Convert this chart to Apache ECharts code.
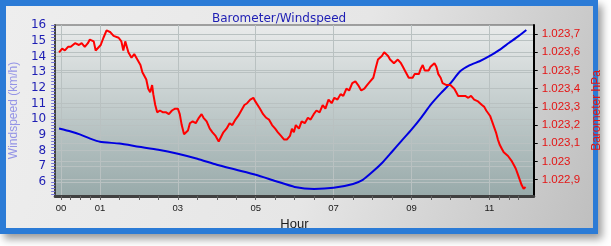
<!DOCTYPE html>
<html><head><meta charset="utf-8">
<script src="https://cdn.jsdelivr.net/npm/echarts@6/dist/echarts.min.js"></script>
<style>html,body{margin:0;padding:0;background:#fff}#c{width:611px;height:246px}</style>
</head><body><div id="c"></div>
<script>
// Barometer (hPa) readings: hour, value
const baroHours = [-0.05,0.03,0.10,0.18,0.25,0.36,0.46,0.53,0.61,0.69,0.74,0.79,0.84,0.89,0.94,1.02,1.09,1.17,1.22,1.27,1.35,1.40,1.48,1.55,1.60,1.65,1.73,1.81,1.88,1.96,2.04,2.09,2.14,2.19,2.24,2.29,2.34,2.37,2.42,2.47,2.54,2.62,2.70,2.77,2.85,2.93,3.00,3.05,3.10,3.16,3.21,3.26,3.31,3.38,3.46,3.54,3.61,3.66,3.74,3.82,3.89,3.97,4.05,4.10,4.17,4.25,4.33,4.40,4.48,4.55,4.63,4.71,4.78,4.86,4.94,4.99,5.04,5.11,5.19,5.27,5.34,5.42,5.50,5.57,5.65,5.73,5.80,5.88,5.93,5.98,6.03,6.11,6.18,6.26,6.34,6.41,6.49,6.56,6.64,6.72,6.79,6.87,6.95,7.02,7.10,7.18,7.25,7.33,7.40,7.48,7.56,7.63,7.71,7.79,7.86,7.94,8.02,8.09,8.14,8.19,8.24,8.30,8.35,8.40,8.45,8.50,8.55,8.60,8.65,8.73,8.78,8.83,8.88,8.93,8.98,9.03,9.08,9.13,9.19,9.24,9.29,9.34,9.39,9.44,9.49,9.54,9.59,9.64,9.69,9.75,9.80,9.85,9.90,9.95,10.00,10.05,10.10,10.15,10.20,10.25,10.31,10.38,10.46,10.53,10.61,10.66,10.71,10.76,10.81,10.87,10.92,10.97,11.02,11.07,11.12,11.17,11.22,11.27,11.32,11.37,11.42,11.48,11.53,11.58,11.63,11.68,11.73,11.78,11.83,11.88,11.93];
const baroValues = [1023.60,1023.62,1023.61,1023.63,1023.63,1023.65,1023.64,1023.65,1023.63,1023.65,1023.67,1023.68,1023.66,1023.61,1023.60,1023.64,1023.68,1023.72,1023.73,1023.71,1023.69,1023.70,1023.68,1023.66,1023.61,1023.66,1023.60,1023.57,1023.59,1023.56,1023.53,1023.49,1023.48,1023.45,1023.40,1023.38,1023.42,1023.37,1023.31,1023.27,1023.28,1023.27,1023.27,1023.26,1023.28,1023.29,1023.29,1023.26,1023.20,1023.15,1023.14,1023.17,1023.21,1023.22,1023.21,1023.24,1023.26,1023.24,1023.22,1023.18,1023.16,1023.14,1023.11,1023.12,1023.16,1023.18,1023.21,1023.20,1023.23,1023.25,1023.28,1023.31,1023.32,1023.34,1023.35,1023.33,1023.34,1023.29,1023.26,1023.24,1023.23,1023.20,1023.18,1023.16,1023.14,1023.12,1023.12,1023.14,1023.18,1023.16,1023.20,1023.18,1023.22,1023.21,1023.24,1023.23,1023.26,1023.28,1023.27,1023.31,1023.29,1023.34,1023.32,1023.35,1023.34,1023.37,1023.36,1023.40,1023.39,1023.43,1023.44,1023.42,1023.39,1023.40,1023.42,1023.44,1023.46,1023.52,1023.56,1023.57,1023.58,1023.60,1023.61,1023.58,1023.56,1023.57,1023.54,1023.55,1023.56,1023.54,1023.52,1023.50,1023.49,1023.46,1023.45,1023.46,1023.48,1023.49,1023.48,1023.51,1023.53,1023.50,1023.49,1023.50,1023.52,1023.53,1023.54,1023.52,1023.48,1023.46,1023.43,1023.42,1023.42,1023.41,1023.42,1023.41,1023.40,1023.38,1023.36,1023.37,1023.36,1023.36,1023.35,1023.36,1023.34,1023.35,1023.33,1023.34,1023.31,1023.30,1023.28,1023.27,1023.25,1023.22,1023.19,1023.16,1023.12,1023.09,1023.07,1023.05,1023.04,1023.03,1023.02,1023.00,1022.98,1022.96,1022.93,1022.90,1022.87,1022.85,1022.86];
// Windspeed (km/h): hour, value
const windHours = [-0.05,0.25,0.5,0.75,1.0,1.5,2.0,2.5,3.0,3.5,4.0,4.5,5.0,5.5,6.0,6.5,7.0,7.5,7.75,8.0,8.25,8.5,8.75,9.0,9.25,9.5,9.75,10.0,10.25,10.5,10.75,11.0,11.25,11.5,11.75,11.95];
const windValues = [9.40,9.21,9.01,8.76,8.56,8.44,8.24,8.05,7.79,7.47,7.09,6.77,6.45,6.06,5.68,5.55,5.62,5.87,6.13,6.64,7.22,7.92,8.63,9.33,10.10,10.94,11.64,12.28,13.05,13.44,13.69,14.01,14.40,14.85,15.29,15.68];
// Tick labels
const hourLabels = [0,1,3,5,7,9,11];
const hourTicks = [0,0.25,0.5,0.75,1,1.5,2,2.5,3,3.5,4,4.5,5,5.5,6,6.5,7,7.5,8,8.5,9,9.5,10,10.5,11,11.25,11.5,11.75];
const windLabels = [6,7,8,9,10,11,12,13,14,15,16];
const baroLabels = [1022.9,1023.0,1023.1,1023.2,1023.3,1023.4,1023.5,1023.6,1023.7];

const windTicks = [];
for (let i = 26; i <= 80; i++) windTicks.push(+(i * 0.2).toFixed(1));

function fmtBaro(v) {
  const s = (Math.round(v * 10) / 10).toFixed(1);
  let [ip, dp] = s.split('.');
  ip = ip.replace(/\B(?=(\d{3})+(?!\d))/g, '.');
  return dp === '0' ? ip : ip + ',' + dp;
}
const gridLine = {show: true, lineStyle: {color: '#b9c1c1', width: 1, type: 'solid'}};
const hidden = {axisLine: {show: false, onZero: false}, axisLabel: {show: false}};

const chart = echarts.init(document.getElementById('c'), null, {renderer: 'canvas'});
chart.setOption({
  animation: false,
  graphic: [
    {type: 'rect', z: -20, shape: {x: 0, y: 0, width: 598, height: 234},
      style: {fill: '#2b7bd6', shadowBlur: 8, shadowColor: 'rgba(0,0,0,0.4)', shadowOffsetX: 4, shadowOffsetY: 5}},
    {type: 'rect', z: -19, shape: {x: 6, y: 6, width: 587, height: 222},
      style: {fill: new echarts.graphic.LinearGradient(0, 0, 1, 1, [
        {offset: 0, color: '#eeeeee'}, {offset: 0.55, color: '#e6e6e6'}, {offset: 1, color: '#bfbfbf'}])}}
  ],
  title: {
    text: 'Barometer/Windspeed', left: 207, top: 8,
    textStyle: {fontSize: 12, fontWeight: 'normal', color: '#1e1eb4', fontFamily: 'DejaVu Sans'}
  },
  grid: {
    left: 51, right: 77, top: 25, bottom: 50, show: true,
    borderColor: '#555', borderWidth: 1,
    backgroundColor: new echarts.graphic.LinearGradient(0, 0, 0, 1, [
      {offset: 0, color: '#e9ebeb'}, {offset: 1, color: '#98aaaa'}])
  },
  xAxis: [
    {
      type: 'value', min: -0.15, max: 12.14,
      axisLine: {onZero: false, lineStyle: {color: '#404040', width: 3}},
      axisTick: {customValues: hourTicks, length: 4, lineStyle: {color: '#606060'}},
      axisLabel: {customValues: hourLabels, formatter: v => String(v).padStart(2, '0'),
        color: '#202020', fontSize: 9.5, fontFamily: 'Liberation Sans', margin: 7},
      splitLine: {show: false},
      name: 'Hour', nameLocation: 'middle', nameGap: 19,
      nameTextStyle: {fontSize: 13, color: '#202020', fontFamily: 'Liberation Sans'}
    },
    Object.assign({
      type: 'value', min: -0.15, max: 12.14, position: 'bottom',
      axisTick: {show: false, customValues: hourLabels},
      splitLine: gridLine
    }, hidden)
  ],
  yAxis: [
    {
      type: 'value', min: 5.1, max: 16, position: 'left',
      axisLine: {show: true, onZero: false, lineStyle: {color: '#404040', width: 2}},
      axisTick: {show: true, customValues: windTicks, length: 4, lineStyle: {color: '#7474d8'}},
      axisLabel: {customValues: windLabels, color: '#1e1eb4', fontSize: 12, fontFamily: 'DejaVu Sans', margin: 9},
      splitLine: {show: false},
      name: 'Windspeed (km/h)', nameLocation: 'middle', nameGap: 35, nameRotate: 90,
      nameTextStyle: {fontSize: 12, color: '#9494e6', fontFamily: 'Liberation Sans'}
    },
    {
      type: 'value', min: 1022.81, max: 1023.75, position: 'right',
      axisLine: {show: true, onZero: false, lineStyle: {color: '#000', width: 2}},
      axisTick: {show: true, customValues: baroLabels, length: 4, lineStyle: {color: '#000'}},
      axisLabel: {customValues: baroLabels, formatter: fmtBaro, color: '#e41414', fontSize: 11.5, fontFamily: 'Liberation Sans', margin: 8},
      splitLine: {show: false},
      name: 'Barometer hPa', nameLocation: 'middle', nameGap: 50, nameRotate: 90,
      nameTextStyle: {fontSize: 12, color: '#e41414', fontFamily: 'Liberation Sans'}
    },
    Object.assign({
      type: 'value', min: 5.1, max: 16, position: 'left',
      axisTick: {show: false, customValues: windLabels.slice(0, -1)},
      splitLine: gridLine
    }, hidden),
    Object.assign({
      type: 'value', min: 1022.81, max: 1023.75, position: 'right',
      axisTick: {show: false, customValues: baroLabels},
      splitLine: gridLine
    }, hidden)
  ],
  series: [
    {
      type: 'line', yAxisIndex: 0, z: 2, showSymbol: false, smooth: 0.2,
      lineStyle: {color: '#0000e0', width: 2}, itemStyle: {color: '#0000e0'},
      data: windHours.map((h, i) => [h, windValues[i]])
    },
    {
      type: 'line', yAxisIndex: 1, z: 3, showSymbol: false,
      lineStyle: {color: '#ff0000', width: 2}, itemStyle: {color: '#ff0000'},
      data: baroHours.map((h, i) => [h, baroValues[i]])
    }
  ]
});
</script></body></html>
